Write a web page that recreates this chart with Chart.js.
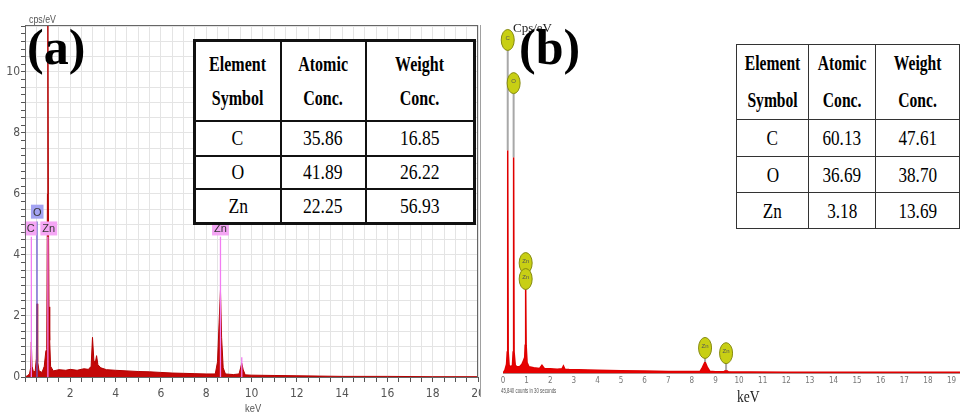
<!DOCTYPE html>
<html>
<head>
<meta charset="utf-8">
<title>EDS spectra</title>
<script src="https://cdn.jsdelivr.net/npm/chart.js"></script>
<style>
body { margin: 0; width: 960px; height: 415px; overflow: hidden; background: #fff; position: relative; }
canvas { position: absolute; top: 0; }
#chartA { left: 0; }
#chartB { left: 480px; }
.txt { position: absolute; white-space: nowrap; line-height: 1; z-index: 3; transform-origin: left top; }
.panel { font-family: 'Liberation Serif', 'Times New Roman', serif; font-weight: bold; font-size: 50px; color: #000; }
table { position: absolute; border-collapse: collapse; table-layout: fixed; background: #fff; z-index: 2;
        font-family: 'Liberation Serif', 'Times New Roman', serif; color: #000; }
td { text-align: center; vertical-align: middle; padding: 0; line-height: 1; overflow: hidden; }
td span { display: inline-block; }
#tabA { left: 193px; top: 39px; border: 3px solid #111; }
#tabA td { border: 2.5px solid #111; }
#tabB { left: 736px; top: 44px; border: 1.5px solid #333; }
#tabB td { border: 1.5px solid #333; }
.vline { position: absolute; left: 480px; top: 25px; width: 1px; height: 372px; background: #a0a0a0; z-index: 1; }
</style>
</head>
<body>
<canvas id="chartA" width="480" height="415"></canvas>
<canvas id="chartB" width="480" height="415"></canvas>
<div class="vline"></div>

<div class="txt panel" style="left:27px;top:22px">(a)</div>
<div class="txt" style="left:29px;top:13px;font:11px 'Liberation Sans',sans-serif;color:#555;transform:scaleX(0.8)">cps/eV</div>
<div class="txt" style="left:245px;top:402px;font:11px 'Liberation Sans',sans-serif;color:#555;transform:scaleX(0.85)">keV</div>

<div class="txt" style="left:513px;top:20px;font:13px 'Liberation Serif',serif;color:#222">Cps/eV</div>
<div class="txt panel" style="left:519px;top:22px">(b)</div>
<div class="txt" style="left:737px;top:387px;font:17px 'Liberation Serif',serif;color:#222;transform:scaleX(0.8)">keV</div>
<div class="txt" style="left:501px;top:387px;font:7px 'Liberation Sans',sans-serif;color:#555;transform:scaleX(0.62)">45,840 counts in 30 seconds</div>

<table id="tabA"></table>
<table id="tabB"></table>

<script>
// spectrum (a)
const energyA = [0, 0.1, 0.2, 0.25, 0.28, 0.31, 0.38, 0.45, 0.5, 0.53, 0.56, 0.62, 0.75, 0.85, 0.92, 0.96, 0.99, 1.01, 1.03, 1.06,
  1.09, 1.13, 1.25, 1.5, 1.8, 2.0, 2.3, 2.6, 2.8, 2.92, 2.98, 3.04, 3.1, 3.16, 3.22, 3.35, 3.6, 4.0, 4.5, 5.0,
  5.5, 6.0, 6.5, 7.0, 7.5, 8.0, 8.4, 8.5, 8.57, 8.63, 8.68, 8.75, 8.85, 9.2, 9.45, 9.52, 9.57, 9.63, 9.72, 10,
  11, 12, 13, 14, 16, 18, 20];
const cpsA = [0, 0.04, 0.1, 0.3, 1.15, 0.35, 0.15, 0.2, 0.6, 2.4, 0.5, 0.2, 0.15, 0.35, 0.85, 0.9, 6.0, 11.6, 6.0, 2.3,
  1.2, 0.35, 0.2, 0.24, 0.22, 0.25, 0.22, 0.27, 0.25, 0.35, 1.3, 0.55, 0.45, 0.7, 0.4, 0.3, 0.24, 0.22, 0.2, 0.18,
  0.17, 0.15, 0.13, 0.12, 0.11, 0.1, 0.1, 0.5, 1.8, 2.85, 1.3, 0.3, 0.1, 0.08, 0.1, 0.3, 0.45, 0.25, 0.07, 0.06,
  0.05, 0.04, 0.03, 0.02, 0.02, 0.01, 0.01];

// element marker lines and tags on (a)
const lineEnergyA = [0.28, 0.53, 1.01, 8.63, 9.57];
const lineTopA = [4.6, 5.1, 4.6, 4.6, 0.65];
const lineColorA = ['#f27cf2', '#6a5acd', '#f27cf2', '#f27cf2', '#f27cf2'];
const tagTextA = ['O', 'C', 'Zn', 'Zn'];
const tagEnergyA = [0.54, 0.25, 1.05, 8.63];
const tagYA = [5.42, 4.87, 4.87, 4.87];
const tagFillA = ['#a3a3f2', '#f5a6f5', '#f5a6f5', '#f5a6f5'];

// spectrum (b)
const energyB = [0, 0.08, 0.15, 0.18, 0.2, 0.22, 0.26, 0.33, 0.4, 0.43, 0.45, 0.47, 0.52, 0.6, 0.7, 0.8, 0.86, 0.92, 0.94, 0.96,
  0.98, 1.02, 1.1, 1.3, 1.55, 1.65, 1.75, 2.0, 2.3, 2.5, 2.56, 2.62, 2.8, 3.2, 4.0, 5.0, 6.0, 7.0, 8.0, 8.35,
  8.45, 8.56, 8.66, 8.76, 9.0, 9.35, 9.45, 9.55, 9.7, 10.5, 12, 14, 16, 18, 19.36];
const cpsB = [0, 0.8, 2.5, 6, 64, 6, 2.2, 1.8, 2.2, 6, 62, 6, 2.2, 1.8, 1.8, 2.5, 3.4, 4.5, 8, 25,
  8, 3, 1.8, 1.5, 1.3, 2.2, 1.3, 1.2, 1.1, 1.2, 2.0, 1.1, 1.0, 0.9, 0.8, 0.65, 0.55, 0.45, 0.4, 0.45,
  1.6, 3.2, 1.6, 0.5, 0.35, 0.35, 0.8, 0.35, 0.3, 0.28, 0.25, 0.22, 0.2, 0.2, 0.2];

// yellow peak tags on (b)
const tagTextB = ['C', 'O', 'Zn', 'Zn', 'Zn', 'Zn'];
const tagEnergyB = [0.2, 0.45, 0.96, 0.96, 8.56, 9.45];
const tagYB = [95.7, 83.3, 31.6, 27.0, 7.2, 5.7];
const stemToB = [64, 62, 25, 25, 3.2, 0.8];

// composition tables
const tableHead = ['Element<br>Symbol', 'Atomic<br>Conc.', 'Weight<br>Conc.'];
const elements = ['C', 'O', 'Zn'];
const atomicA = ['35.86', '41.89', '22.25'];
const weightA = ['16.85', '26.22', '56.93'];
const atomicB = ['60.13', '36.69', '3.18'];
const weightB = ['47.61', '38.70', '13.69'];

function fillTable(id, colW, rowH, headLine, headSize, cellSize, sx, atomic, weight) {
  const t = document.getElementById(id);
  let html = '<colgroup>' + colW.map(w => '<col style="width:' + w + 'px">').join('') + '</colgroup>';
  html += '<tr style="height:' + rowH[0] + 'px">' + tableHead.map(h =>
    '<td><span style="font-weight:bold;font-size:' + headSize + 'px;line-height:' + headLine + 'px;transform:scaleX(' + sx + ')">' + h + '</span></td>').join('') + '</tr>';
  elements.forEach((el, i) => {
    html += '<tr style="height:' + rowH[i + 1] + 'px">' + [el, atomic[i], weight[i]].map(v =>
      '<td><span style="font-size:' + cellSize + 'px;transform:scaleX(' + sx + ')">' + v + '</span></td>').join('') + '</tr>';
  });
  t.innerHTML = html;
}
fillTable('tabA', [86, 85, 109], [80, 35, 33, 35], 34, 20, 22, 0.8, atomicA, weightA);
fillTable('tabB', [70, 69, 93], [69, 37, 36, 36], 37, 20, 22, 0.78, atomicB, weightB);

const axisFont = { family: "'Liberation Sans Narrow', 'DejaVu Sans Condensed', sans-serif", size: 12 };

const markersA = {
  id: 'markersA',
  afterDatasetsDraw(chart) {
    const { ctx, scales: { x, y }, chartArea } = chart;
    ctx.save();
    ctx.lineWidth = 1.3;
    lineEnergyA.forEach((e, i) => {
      const px = x.getPixelForValue(e);
      ctx.strokeStyle = lineColorA[i];
      ctx.beginPath();
      ctx.moveTo(px, y.getPixelForValue(0));
      ctx.lineTo(px, y.getPixelForValue(lineTopA[i]));
      ctx.stroke();
    });
    ctx.font = "11px 'Liberation Sans', sans-serif";
    ctx.textAlign = 'center';
    ctx.textBaseline = 'middle';
    tagTextA.forEach((t, i) => {
      const px = x.getPixelForValue(tagEnergyA[i]);
      const py = y.getPixelForValue(tagYA[i]);
      const w = ctx.measureText(t).width + 4;
      ctx.fillStyle = tagFillA[i];
      ctx.fillRect(px - w / 2, py - 7, w, 14);
      ctx.fillStyle = '#333';
      ctx.fillText(t, px, py + 1);
    });
    // frame
    ctx.strokeStyle = '#666';
    ctx.lineWidth = 1;
    ctx.strokeRect(chartArea.left + 0.5, chartArea.top + 0.5, chartArea.width - 1, chartArea.height);
    ctx.restore();
  }
};

const markersB = {
  id: 'markersB',
  afterDatasetsDraw(chart) {
    const { ctx, scales: { x, y } } = chart;
    ctx.save();
    tagTextB.forEach((t, i) => {
      const px = x.getPixelForValue(tagEnergyB[i]);
      const py = y.getPixelForValue(tagYB[i]);
      ctx.strokeStyle = '#a8a8a8';
      ctx.lineWidth = 2;
      ctx.beginPath();
      ctx.moveTo(px, py + 10);
      ctx.lineTo(px, y.getPixelForValue(stemToB[i]));
      ctx.stroke();
      ctx.beginPath();
      ctx.ellipse(px, py, 6.5, 10.5, 0, 0, Math.PI * 2);
      ctx.fillStyle = '#c8cf14';
      ctx.fill();
      ctx.strokeStyle = '#858a10';
      ctx.lineWidth = 1;
      ctx.stroke();
      ctx.fillStyle = '#555';
      ctx.font = "6px 'Liberation Sans', sans-serif";
      ctx.textAlign = 'center';
      ctx.textBaseline = 'middle';
      ctx.fillText(t, px, py - 2);
    });
    ctx.restore();
  }
};

new Chart(document.getElementById('chartA'), {
  type: 'line',
  data: {
    datasets: [{
      data: energyA.map((e, i) => ({ x: e, y: cpsA[i] })),
      borderColor: '#b30000',
      backgroundColor: '#c40808',
      borderWidth: 1,
      pointRadius: 0,
      fill: 'origin',
      tension: 0
    }]
  },
  options: {
    responsive: false,
    animation: false,
    devicePixelRatio: 1,
    layout: { padding: { top: 25, right: 2, left: 0, bottom: 0 } },
    plugins: { legend: { display: false }, tooltip: { enabled: false } },
    scales: {
      x: {
        type: 'linear', min: 0, max: 20,
        ticks: {
          stepSize: 0.5, autoSkip: false, maxRotation: 0, padding: 5,
          color: '#555', font: axisFont,
          callback: v => (v % 2 === 0 && v !== 0) ? v : ''
        },
        grid: { color: '#e4e4e4', tickColor: '#555', tickLength: 5 },
        border: { color: '#555' },
        afterFit: s => { s.height = 38; s.paddingLeft = 0; s.paddingRight = 0; }
      },
      y: {
        type: 'linear', min: 0, max: 11.54,
        ticks: {
          stepSize: 0.25, includeBounds: false, autoSkip: false, padding: 1,
          color: '#555', font: axisFont,
          callback: v => (v % 2 === 0) ? v : ''
        },
        grid: {
          color: c => (c.tick && c.tick.value % 0.5 === 0) ? '#e4e4e4' : 'rgba(0,0,0,0)',
          tickColor: '#555', tickLength: 4
        },
        border: { color: '#555' },
        afterFit: s => { s.width = 25; s.paddingTop = 0; s.paddingBottom = 0; }
      }
    }
  },
  plugins: [markersA]
});

new Chart(document.getElementById('chartB'), {
  type: 'line',
  data: {
    datasets: [{
      data: energyB.map((e, i) => ({ x: e, y: cpsB[i] })),
      borderColor: '#e00000',
      backgroundColor: '#e80000',
      borderWidth: 1.5,
      pointRadius: 0,
      fill: 'origin',
      tension: 0
    }]
  },
  options: {
    responsive: false,
    animation: false,
    devicePixelRatio: 1,
    layout: { padding: { top: 25, right: 0, left: 23, bottom: 0 } },
    plugins: { legend: { display: false }, tooltip: { enabled: false } },
    scales: {
      x: {
        type: 'linear', min: 0, max: 19.36,
        ticks: {
          stepSize: 1, includeBounds: false, autoSkip: false, maxRotation: 0, padding: 3,
          color: '#777', font: { family: "'Liberation Sans Narrow', 'DejaVu Sans Condensed', sans-serif", size: 8 },
          callback: v => Number.isInteger(v) ? v : ''
        },
        grid: { display: true, drawOnChartArea: false, drawTicks: false },
        border: { color: '#b08a8a' },
        afterFit: s => { s.height = 42; s.paddingLeft = 0; s.paddingRight = 0; }
      },
      y: { display: false, min: 0, max: 100 }
    }
  },
  plugins: [markersB]
});
</script>
</body>
</html>
